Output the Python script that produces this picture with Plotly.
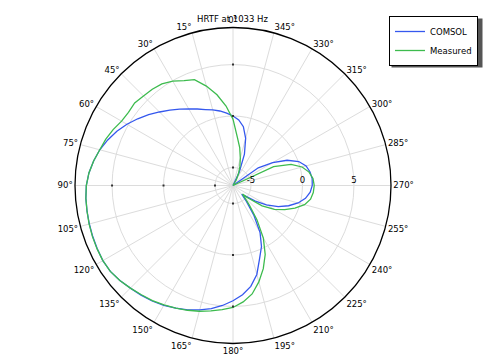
import plotly.graph_objects as go

# ---- data ----
R_MIN = -6.75
R_MAX = 8.6

theta_comsol = [0, 5, 10, 15, 20, 25, 30, 35, 40, 45, 50, 55, 60, 65, 70, 75, 80, 85, 90,
                95, 100, 105, 110, 115, 120, 125, 130, 135, 140, 145, 150, 155, 160, 165,
                170, 175, 180, 185, 190, 195, 200, 205, 210, 215, 220, 225, 230, 235, 240,
                245, 250, 255, 260, 265, 270, 275, 280, 285, 290, 295, 300, 305, 310, 315,
                320, 325, 330, 335, 340, 345, 350, 355, 360]
r_comsol = [0.0, 0.3, 0.6, 0.85, 1.1, 1.45, 1.85, 2.3, 2.8, 3.35, 3.95, 4.55, 5.15, 5.7, 6.2,
            6.65, 7.0, 7.3, 7.5, 7.6, 7.65, 7.7, 7.75, 7.8, 7.85, 7.8, 7.6, 7.35, 7.15, 6.95,
            6.7, 6.4, 6.1, 5.75, 5.4, 4.95, 4.45, 3.9, 3.2, 2.2, 0.8, -0.2, -1.5, -3.2, -4.7,
            -5.55, -5.15, -4.1, -3.0, -1.9, -1.0, -0.2, 0.4, 0.78, 0.95, 0.97, 0.85, 0.6,
            0.05, -0.95, -2.3, -3.75, -6.75, -6.75, -6.75, -6.75, -6.75, -5.3, -3.5, -2.0,
            -0.95, -0.35, 0.0]

theta_measured = [0, 3, 5, 10, 15, 20, 25, 30, 35, 40, 45, 50, 55, 60, 65, 70, 75, 80, 85, 90,
                  95, 100, 105, 110, 115, 120, 125, 130, 135, 140, 145, 150, 155, 160, 165,
                  170, 175, 180, 185, 190, 195, 200, 205, 210, 215, 220, 225, 228, 230, 235,
                  240, 245, 250, 255, 260, 265, 270, 275, 280, 285, 290, 295, 300, 305, 310,
                  315, 320, 325, 330, 335, 340, 345, 350, 355, 360]
r_measured = [-0.3, 0.4, 1.0, 2.2, 3.25, 4.2, 4.5, 4.95, 5.3, 5.45, 5.55, 5.72, 5.65, 5.75,
              6.1, 6.4, 6.65, 7.0, 7.3, 7.5, 7.6, 7.65, 7.72, 7.78, 7.82, 7.85, 7.8, 7.6,
              7.35, 7.1, 6.9, 6.65, 6.4, 6.15, 5.9, 5.62, 5.35, 5.1, 4.6, 3.95, 2.95, 1.85,
              0.65, -0.85, -2.7, -4.3, -5.2, -5.5, -4.9, -3.3, -2.1, -1.2, -0.35, 0.45, 0.9,
              1.08, 1.14, 1.05, 0.75, 0.2, -0.75, -2.4, -6.75, -6.75, -6.75, -6.75, -6.75,
              -6.75, -6.1, -5.5, -4.8, -4.0, -3.0, -2.0, -0.3]

radial_ticks = [-5, 0, 5]
radial_tick_labels = ["-5", "0", "5"]
tick_mark_angles = [0, 90, 180]
angular_ticks = list(range(0, 360, 15))
angular_tick_labels = [f"{a}°" for a in angular_ticks]

FONT = "DejaVu Sans"

fig = go.Figure()
fig.add_trace(go.Scatterpolar(r=r_comsol, theta=theta_comsol, mode="lines", name="COMSOL",
                              line=dict(color="#3558ee", width=1.3)))
fig.add_trace(go.Scatterpolar(r=r_measured, theta=theta_measured, mode="lines", name="Measured",
                              line=dict(color="#3dbb4e", width=1.3)))

# small tick marks on the 0/90/180 degree spokes
tm_r, tm_t = [], []
for a in tick_mark_angles:
    for v in radial_ticks:
        tm_r.append(v)
        tm_t.append(a)
fig.add_trace(go.Scatterpolar(r=tm_r, theta=tm_t, mode="markers", showlegend=False,
                              hoverinfo="skip",
                              marker=dict(symbol="square", size=2, color="#333333",
                                          line=dict(width=0))))

W, H = 486, 354
cx, cy, R = 233, 185.5, 158

# legend drop shadow (legend box spans roughly x 389-480, y 16-65 px)
sh_x0, sh_x1, sh_y0, sh_y1 = 391.5, 482.5, 18.5, 67.5

fig.update_layout(
    width=W, height=H,
    margin=dict(l=0, r=0, t=0, b=0),
    paper_bgcolor="white",
    font=dict(family=FONT, size=9, color="black"),
    title=dict(text="HRTF at 1033 Hz", x=232.5 / W, y=1 - 19 / H, xanchor="center",
               yanchor="middle", font=dict(family=FONT, size=8.5, color="black")),
    polar=dict(
        domain=dict(x=[(cx - R) / W, (cx + R) / W], y=[(H - cy - R) / H, (H - cy + R) / H]),
        bgcolor="white",
        angularaxis=dict(rotation=90, direction="counterclockwise",
                         tickmode="array", tickvals=angular_ticks, ticktext=angular_tick_labels,
                         showline=True, linecolor="black", linewidth=1.3,
                         gridcolor="#dcdcdc", gridwidth=1, ticks="",
                         tickfont=dict(family=FONT, size=8.5, color="black")),
        radialaxis=dict(range=[R_MIN, R_MAX], angle=0, tickangle=0, side="counterclockwise",
                        tickmode="array", tickvals=radial_ticks, ticktext=radial_tick_labels,
                        showline=False, ticks="", gridcolor="#dcdcdc", gridwidth=1,
                        tickfont=dict(family=FONT, size=8.5, color="black")),
    ),
    legend=dict(x=389 / W, y=1 - 16 / H, xanchor="left", yanchor="top",
                bgcolor="white", bordercolor="black", borderwidth=1,
                font=dict(family=FONT, size=8.5, color="black"),
                tracegroupgap=0, itemwidth=30),
    shapes=[dict(type="rect", xref="paper", yref="paper",
                 x0=sh_x0 / W, x1=sh_x1 / W, y0=1 - sh_y1 / H, y1=1 - sh_y0 / H,
                 fillcolor="#555555", line=dict(width=0), layer="above")],
)

fig.write_html("out.html")
